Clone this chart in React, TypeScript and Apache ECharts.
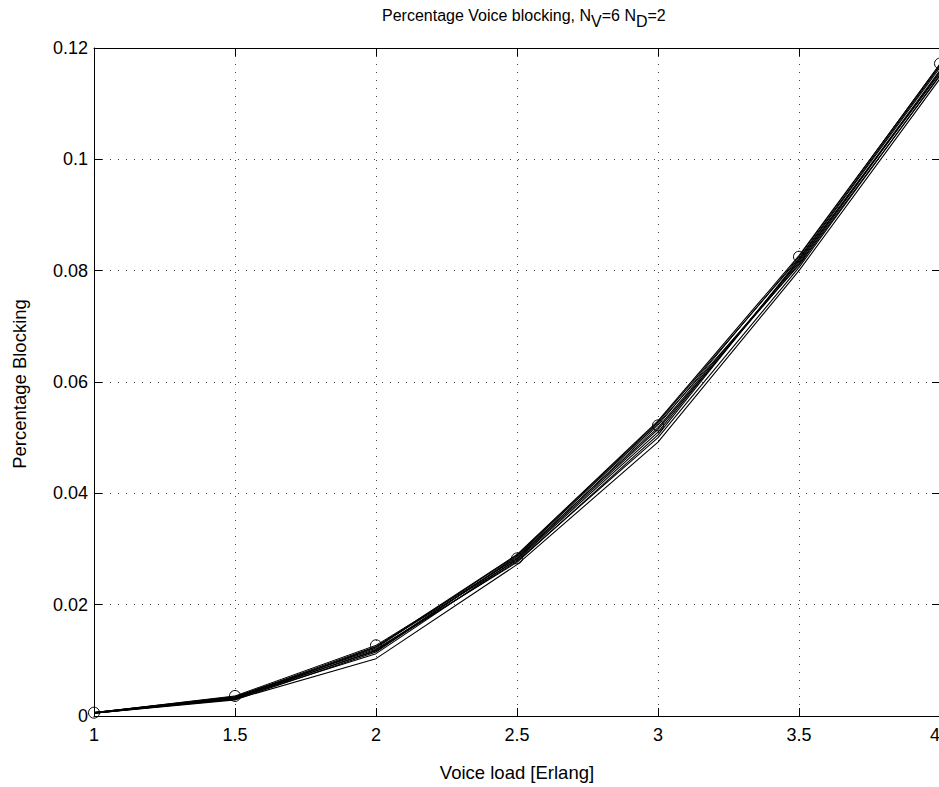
import React, { useEffect, useRef } from "react";
import * as echarts from "echarts";

const voiceLoad = [1, 1.5, 2, 2.5, 3, 3.5, 4];

const runMarked = [0.0006, 0.0036, 0.0127, 0.0283, 0.0522, 0.0825, 0.1172];
const run2 = [0.0005, 0.003, 0.0103, 0.0272, 0.0492, 0.08, 0.1145];
const run3 = [0.0006, 0.0033, 0.0122, 0.0289, 0.0528, 0.0822, 0.1168];
const run4 = [0.0005, 0.0031, 0.0118, 0.0285, 0.0518, 0.0815, 0.116];
const run5 = [0.0006, 0.0034, 0.0125, 0.028, 0.051, 0.0818, 0.1155];
const run6 = [0.0005, 0.0029, 0.0115, 0.0287, 0.0525, 0.081, 0.115];
const run7 = [0.0006, 0.0035, 0.012, 0.0276, 0.0505, 0.082, 0.1165];
const run8 = [0.0005, 0.0032, 0.0112, 0.0282, 0.0515, 0.0812, 0.1158];
const run9 = [0.0006, 0.003, 0.0124, 0.029, 0.053, 0.0827, 0.117];
const run10 = [0.0005, 0.0033, 0.0117, 0.0278, 0.05, 0.0806, 0.1152];

const otherRuns = [run2, run3, run4, run5, run6, run7, run8, run9, run10];

// title pieces: [text, isSubscript]
const titleParts: [string, boolean][] = [
  ["Percentage Voice blocking, N", false],
  ["V", true],
  ["=6 N", false],
  ["D", true],
  ["=2", false],
];

const FONT = "Liberation Sans, Arial, Helvetica, sans-serif";

export default function App() {
  const ref = useRef<HTMLDivElement>(null);
  useEffect(() => {
    if (!ref.current) return;
    const chart = echarts.init(ref.current, null, { renderer: "svg" });
    const toPts = (arr: number[]) => voiceLoad.map((x, i) => [x, arr[i]]);
    const series: any[] = [
      {
        type: "line",
        data: toPts(runMarked),
        symbol: "circle",
        symbolSize: 11,
        showSymbol: true,
        itemStyle: { color: "transparent", borderColor: "#000", borderWidth: 1 },
        lineStyle: { color: "#000", width: 1 },
        z: 5,
      },
      ...otherRuns.map((r) => ({
        type: "line",
        data: toPts(r),
        symbol: "none",
        lineStyle: { color: "#000", width: 1.1 },
      })),
    ];

    // build title from measured pieces
    const titleSize = 16;
    const ctx = document.createElement("canvas").getContext("2d");
    const measure = (t: string) => {
      if (!ctx) return t.length * titleSize * 0.55;
      ctx.font = `${titleSize}px ${FONT}`;
      return ctx.measureText(t).width;
    };
    let tx = 382;
    const titleEls: any[] = titleParts.map(([t, sub]) => {
      const el = {
        type: "text",
        x: tx,
        y: sub ? 21 : 15,
        style: { text: t, fontFamily: FONT, fontSize: titleSize, fill: "#000", align: "left", verticalAlign: "middle" },
      };
      tx += measure(t);
      return el;
    });

    const gridLine = { show: true, lineStyle: { color: "#444", width: 1, type: [1, 7] } };
    const tick = { show: true, inside: true, length: 8, lineStyle: { color: "#000" } };
    chart.setOption({
      animation: false,
      backgroundColor: "#fff",
      grid: { left: 94, top: 48, right: 20, bottom: 71, containLabel: false },
      xAxis: [
        {
          type: "value",
          min: 1,
          max: 4,
          interval: 0.5,
          axisLine: { show: true, onZero: false, lineStyle: { color: "#000", width: 1 } },
          axisTick: tick,
          axisLabel: {
            color: "#000",
            fontFamily: FONT,
            fontSize: 18,
            margin: 10,
            alignMaxLabel: "right",
            formatter: (v: number) => String(v),
          },
          splitLine: gridLine,
        },
        {
          type: "value",
          position: "top",
          min: 1,
          max: 4,
          interval: 0.5,
          axisLine: { show: true, onZero: false, lineStyle: { color: "#000", width: 1 } },
          axisTick: tick,
          axisLabel: { show: false },
          splitLine: { show: false },
        },
      ],
      yAxis: [
        {
          type: "value",
          min: 0,
          max: 0.12,
          interval: 0.02,
          axisLine: { show: true, onZero: false, lineStyle: { color: "#000", width: 1 } },
          axisTick: tick,
          axisLabel: { color: "#000", fontFamily: FONT, fontSize: 18, margin: 6, formatter: (v: number) => String(Number(v.toFixed(4))) },
          splitLine: gridLine,
        },
        {
          type: "value",
          position: "right",
          min: 0,
          max: 0.12,
          interval: 0.02,
          axisLine: { show: true, onZero: false, lineStyle: { color: "#000", width: 1 } },
          axisTick: tick,
          axisLabel: { show: false },
          splitLine: { show: false },
        },
      ],
      graphic: [
        ...titleEls,
        {
          type: "text",
          x: 517,
          y: 772,
          style: { text: "Voice load [Erlang]", fontFamily: FONT, fontSize: 18.5, fill: "#000", align: "center", verticalAlign: "middle" },
        },
        {
          type: "text",
          x: 19,
          y: 384,
          rotation: Math.PI / 2,
          style: { text: "Percentage Blocking", fontFamily: FONT, fontSize: 18.5, fill: "#000", align: "center", verticalAlign: "middle" },
        },
      ],
      series,
    });
    return () => chart.dispose();
  }, []);
  return (
    <div style={{ position: "absolute", left: 0, top: 0, width: 939, height: 787, overflow: "hidden" }}>
      <div ref={ref} style={{ width: 960, height: 787 }} />
    </div>
  );
}
